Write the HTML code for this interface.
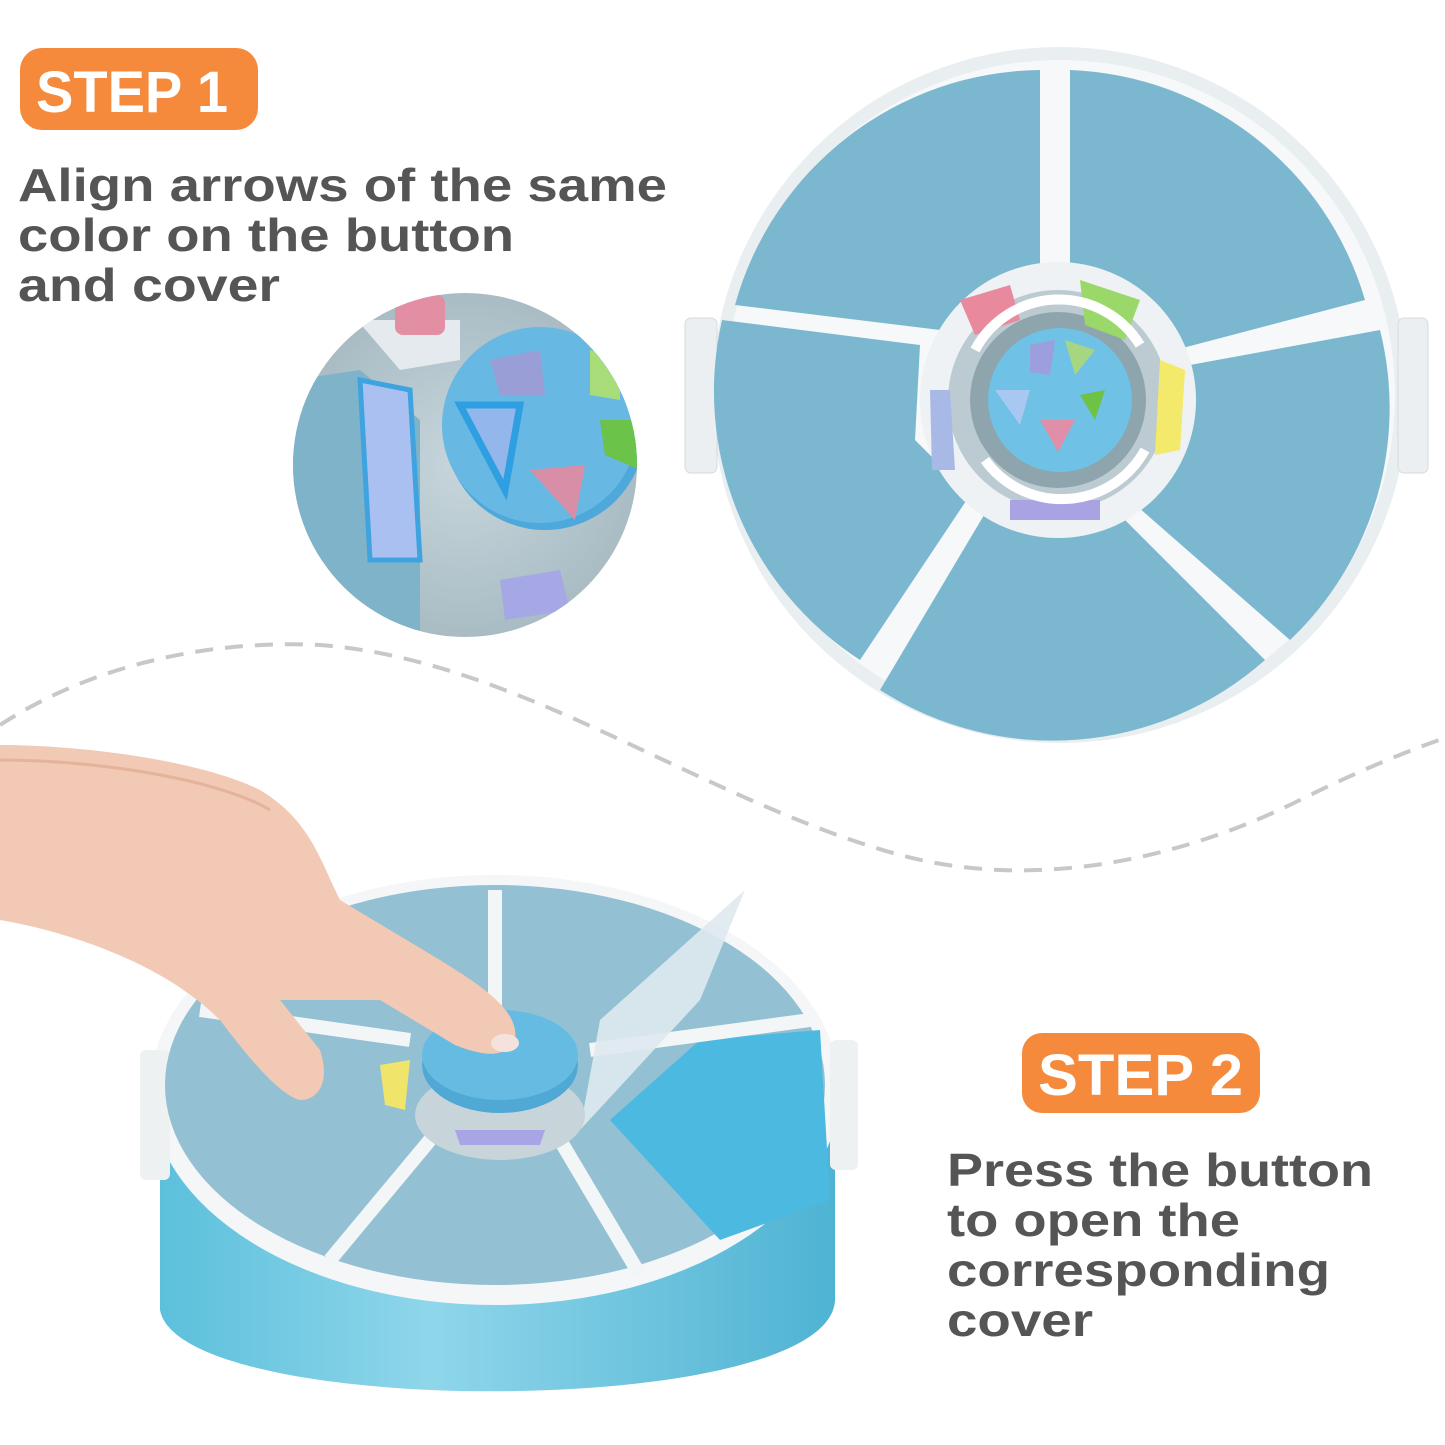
<!DOCTYPE html>
<html><head><meta charset="utf-8"><style>
html,body{margin:0;padding:0;background:#fff;}
body{width:1445px;height:1445px;overflow:hidden;position:relative;font-family:"Liberation Sans",sans-serif;}
svg{position:absolute;left:0;top:0;}
</style></head><body>
<svg width="1445" height="1445" viewBox="0 0 1445 1445" xmlns="http://www.w3.org/2000/svg">
<defs>
<linearGradient id="body" x1="0" x2="1" y1="0" y2="0">
<stop offset="0" stop-color="#5cc0dc"/><stop offset="0.4" stop-color="#8fd6ea"/><stop offset="1" stop-color="#4fb3d3"/>
</linearGradient>
<radialGradient id="zoomg" cx="0.5" cy="0.5" r="0.5">
<stop offset="0" stop-color="#c7d6dc"/><stop offset="1" stop-color="#a9bcc4"/>
</radialGradient>
</defs>

<path d="M0,725 C100,660 220,640 320,645 C520,660 700,800 900,855 C1050,895 1200,850 1300,800 C1360,770 1410,750 1445,738" fill="none" stroke="#c8c8c8" stroke-width="4" stroke-dasharray="18,12"/>

<rect x="20" y="48" width="238" height="82" rx="22" fill="#f58a3c"/>
<text x="36" y="112" textLength="192" lengthAdjust="spacingAndGlyphs" font-size="58" font-weight="bold" fill="#fff">STEP 1</text>
<g font-size="46" font-weight="bold" fill="#555">
<text x="18" y="201" textLength="649" lengthAdjust="spacingAndGlyphs">Align arrows of the same</text>
<text x="18" y="251" textLength="496" lengthAdjust="spacingAndGlyphs">color on the button</text>
<text x="18" y="301" textLength="262" lengthAdjust="spacingAndGlyphs">and cover</text>
</g>

<circle cx="465" cy="465" r="172" fill="url(#zoomg)"/>
<clipPath id="zc"><circle cx="465" cy="465" r="172"/></clipPath>
<g clip-path="url(#zc)">
<path d="M293,380 L360,370 L420,420 L420,640 L293,640 Z" fill="#7fb3c9"/>
<path d="M293,300 L340,300 L400,370 L460,360 L460,320 L293,320Z" fill="#e4eaee"/>
<rect x="395" y="295" width="50" height="40" rx="8" fill="#e28fa4"/>
<path d="M360,380 L410,390 L420,560 L370,560Z" fill="#a9c0f0" stroke="#3fa3e0" stroke-width="5"/>
<circle cx="545" cy="430" r="100" fill="#4fa8da"/>
<circle cx="540" cy="425" r="98" fill="#67b8e2"/>
<path d="M490,360 L540,350 L545,395 L500,395Z" fill="#9a9ed6"/>
<path d="M460,405 L520,405 L505,490 Z" fill="#93b6ec" stroke="#2e9fe0" stroke-width="7"/>
<path d="M530,470 L585,465 L575,520 Z" fill="#d98ea8"/>
<path d="M590,350 L620,360 L620,400 L590,395Z" fill="#a8dd7a"/>
<path d="M600,420 L640,420 L640,470 L605,455Z" fill="#6bc34a"/>
<path d="M500,580 L560,570 L570,610 L505,620Z" fill="#a6a8e6"/>
</g>

<circle cx="1060" cy="395" r="348" fill="#e9eef1"/>
<rect x="685" y="318" width="32" height="155" rx="6" fill="#eceff1" stroke="#d6dbde"/>
<rect x="1398" y="318" width="30" height="155" rx="6" fill="#eceff1" stroke="#d6dbde"/>
<circle cx="1060" cy="395" r="335" fill="#f6f8f9"/>
<g fill="#7cb7d0">
<path d="M1040,70 L1040,290 L1020,290 L940,330 L735,305 A320,320 0 0 1 1040,70Z"/>
<path d="M1070,70 A320,320 0 0 1 1365,300 L1175,350 L1130,300 L1070,285Z"/>
<path d="M1380,330 A320,320 0 0 1 1290,640 L1130,500 L1175,450 L1190,365Z"/>
<path d="M1110,505 L1265,660 A320,320 0 0 1 880,690 L990,505 Z"/>
<path d="M722,320 L920,345 L915,440 L970,495 L860,660 A320,320 0 0 1 722,320Z"/>
</g>
<circle cx="1058" cy="400" r="138" fill="#eef2f4"/>
<circle cx="1058" cy="400" r="110" fill="#bccbd2"/>
<circle cx="1058" cy="400" r="88" fill="#8fa5ae"/>
<path d="M960,300 L1010,285 L1020,320 L975,335Z" fill="#e8899e"/>
<path d="M1080,280 L1140,300 L1125,340 L1085,325Z" fill="#9bd86a"/>
<path d="M1160,360 L1185,370 L1180,450 L1155,455Z" fill="#f3ea6b"/>
<path d="M1010,500 L1100,500 L1100,520 L1010,520Z" fill="#a9a3e4"/>
<path d="M930,390 L950,390 L955,470 L932,470Z" fill="#a8b9e6"/>
<circle cx="1060" cy="400" r="72" fill="#6fc1e6"/>
<path d="M1030,345 L1055,340 L1050,375 L1030,372Z" fill="#9c9fdc"/>
<path d="M1065,340 L1095,350 L1075,375Z" fill="#a7d683"/>
<path d="M1080,395 L1105,390 L1095,420 Z" fill="#6ec244"/>
<path d="M1040,420 L1075,420 L1058,452 Z" fill="#e08fa8"/>
<path d="M995,390 L1030,390 L1020,425 Z" fill="#a8c8f2"/>
<path d="M975,350 A95,95 0 0 1 1140,345" fill="none" stroke="#fff" stroke-width="10"/>
<path d="M1145,450 A95,95 0 0 1 985,460" fill="none" stroke="#fff" stroke-width="10"/>

<path d="M160,1080 L160,1310 C180,1420 830,1420 835,1300 L835,1080Z" fill="url(#body)"/>
<ellipse cx="495" cy="1090" rx="345" ry="215" fill="#f4f6f7"/>
<rect x="140" y="1050" width="30" height="130" rx="6" fill="#eef1f2"/>
<rect x="830" y="1040" width="28" height="130" rx="6" fill="#eef1f2"/>
<ellipse cx="495" cy="1085" rx="330" ry="200" fill="#93c0d3"/>
<path d="M610,1120 L700,1040 L820,1030 L830,1200 L720,1240Z" fill="#4bb9e0"/>
<g stroke="#f3f6f7" stroke-width="14" fill="none">
<path d="M495,890 L495,1010"/>
<path d="M430,1140 L330,1260"/>
<path d="M560,1140 L640,1275"/>
<path d="M200,1010 L410,1040"/>
<path d="M590,1050 L810,1020"/>
</g>
<path d="M745,890 L700,1000 L580,1130 L600,1020 Z" fill="#dfe9ee" opacity="0.9"/>
<ellipse cx="500" cy="1115" rx="85" ry="45" fill="#c7d4da"/>
<ellipse cx="500" cy="1065" rx="78" ry="48" fill="#4fa9d4"/>
<ellipse cx="500" cy="1055" rx="78" ry="45" fill="#66bbe3"/>
<path d="M380,1065 L410,1060 L405,1110 L385,1105Z" fill="#f0e46a"/>
<path d="M455,1130 L545,1130 L540,1145 L460,1145Z" fill="#a9a4e6"/>

<path d="M0,745 C80,745 200,760 260,790 C310,820 320,860 340,900 L440,960 C480,985 520,1010 515,1040 C505,1060 480,1055 455,1045 L380,1000 L280,1000 L320,1050 C330,1080 320,1100 300,1100 C280,1095 250,1060 220,1020 C160,960 60,930 0,920Z" fill="#f1c9b4"/>
<path d="M0,760 C100,760 220,780 270,810" fill="none" stroke="#e5b39b" stroke-width="3"/>
<ellipse cx="505" cy="1043" rx="14" ry="9" fill="#f6e2dc"/>

<rect x="1022" y="1033" width="238" height="80" rx="20" fill="#f58a3c"/>
<text x="1038" y="1095" textLength="205" lengthAdjust="spacingAndGlyphs" font-size="58" font-weight="bold" fill="#fff">STEP 2</text>
<g font-size="46" font-weight="bold" fill="#555">
<text x="947" y="1186" textLength="426" lengthAdjust="spacingAndGlyphs">Press the button</text>
<text x="947" y="1236" textLength="293" lengthAdjust="spacingAndGlyphs">to open the</text>
<text x="947" y="1286" textLength="383" lengthAdjust="spacingAndGlyphs">corresponding</text>
<text x="947" y="1336" textLength="146" lengthAdjust="spacingAndGlyphs">cover</text>
</g>
</svg>
</body></html>
